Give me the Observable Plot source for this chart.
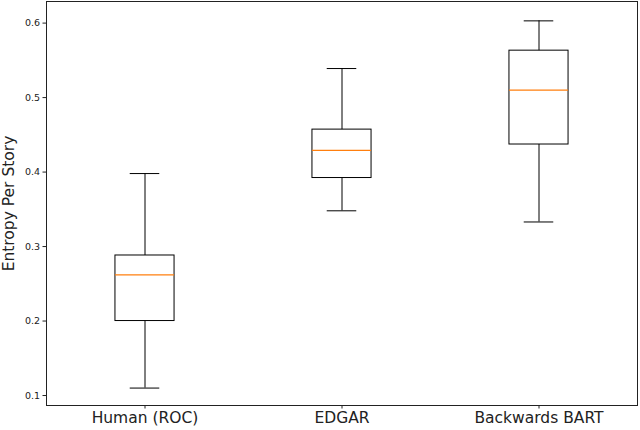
<!DOCTYPE html>
<html>
<head>
<meta charset="utf-8">
<script src="https://cdn.jsdelivr.net/npm/d3@7"></script>
<script src="https://cdn.jsdelivr.net/npm/@observablehq/plot@0.6"></script>
<style>
  html, body { margin: 0; padding: 0; background: #fff; }
  svg { font-family: "DejaVu Sans", sans-serif; }
</style>
</head>
<body>
<div id="chart"></div>
<script>
const categories = ["Human (ROC)", "EDGAR", "Backwards BART"];
const whiskerLow = [0.110, 0.348, 0.333];
const q1 = [0.200, 0.392, 0.437];
const median = [0.262, 0.429, 0.510];
const q3 = [0.288, 0.457, 0.563];
const whiskerHigh = [0.398, 0.539, 0.603];
const yTicks = [0.1, 0.2, 0.3, 0.4, 0.5, 0.6];
const yLabel = "Entropy Per Story";

const boxHalf = 0.15, capHalf = 0.075;
const data = categories.map((c, i) => ({
  name: c, pos: i + 1,
  lo: whiskerLow[i], q1: q1[i], med: median[i], q3: q3[i], hi: whiskerHigh[i]
}));

const chart = Plot.plot({
  width: 640,
  height: 430,
  marginLeft: 46,
  marginRight: 3,
  marginTop: 1,
  marginBottom: 25,
  x: { domain: [0.5, 3.5] },
  y: { domain: [0.0866, 0.629] },
  marks: [
    Plot.frame({ stroke: "#222", strokeWidth: 1 }),
    // whiskers
    Plot.ruleX(data, { x: "pos", y1: "lo", y2: "q1", stroke: "black", strokeWidth: 1 }),
    Plot.ruleX(data, { x: "pos", y1: "q3", y2: "hi", stroke: "black", strokeWidth: 1 }),
    // caps
    Plot.ruleY(data, { y: "lo", x1: d => d.pos - capHalf, x2: d => d.pos + capHalf, stroke: "black", strokeWidth: 1 }),
    Plot.ruleY(data, { y: "hi", x1: d => d.pos - capHalf, x2: d => d.pos + capHalf, stroke: "black", strokeWidth: 1 }),
    // boxes
    Plot.rect(data, { x1: d => d.pos - boxHalf, x2: d => d.pos + boxHalf, y1: "q1", y2: "q3", fill: "none", stroke: "black", strokeWidth: 1 }),
    // medians
    Plot.ruleY(data, { y: "med", x1: d => d.pos - boxHalf, x2: d => d.pos + boxHalf, stroke: "#ff7f0e", strokeWidth: 1.2 }),
    Plot.axisY({ ticks: yTicks, tickFormat: d => d.toFixed(1), tickSize: 3.5, tickPadding: 3, fontSize: 9.5, label: null, color: "#222" }),
    Plot.axisX({ ticks: [1, 2, 3], tickFormat: d => categories[d - 1], tickSize: 3.5, tickPadding: 3, fontSize: 15.5, label: null, color: "#222" }),
    Plot.text([yLabel], { frameAnchor: "left", textAnchor: "middle", rotate: -90, dx: -37, fontSize: 15.5, fill: "#222" })
  ]
});
document.getElementById("chart").appendChild(chart);
</script>
</body>
</html>
